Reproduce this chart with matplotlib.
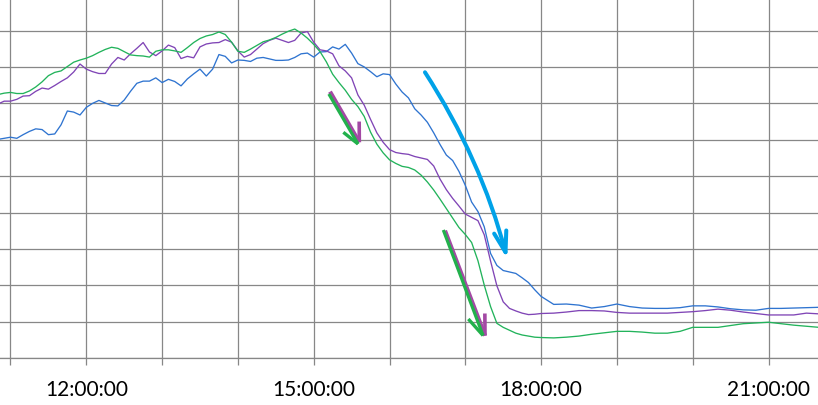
import numpy as np
import pandas as pd
import matplotlib
matplotlib.use("Agg")
import matplotlib.pyplot as plt
from matplotlib.ticker import MultipleLocator, FuncFormatter

# ── sampling times: every 5 min until 18:00, then every 10 min ────────────────
TIMES = (list(pd.date_range("2000-01-01 10:50", "2000-01-01 18:00", freq="5min"))
         + list(pd.date_range("2000-01-01 18:10", "2000-01-01 21:40", freq="10min")))
HOURS = np.array([t.hour + t.minute / 60 for t in TIMES])

# ── series values (1 unit = 1 grid step) ─────────────────────────────────────
BLUE = [6.01, 6.04, 6.07, 6.04, 6.14, 6.23, 6.30, 6.28, 6.14, 6.16,
        6.41, 6.79, 6.76, 6.68, 6.89, 7.00, 7.08, 7.01, 6.94, 6.93,
        7.09, 7.33, 7.55, 7.61, 7.61, 7.70, 7.57, 7.66, 7.60, 7.48,
        7.67, 7.81, 7.94, 7.75, 7.94, 8.34, 8.29, 8.11, 8.19, 8.18,
        8.15, 8.24, 8.26, 8.22, 8.18, 8.18, 8.19, 8.26, 8.36, 8.38,
        8.27, 8.41, 8.42, 8.55, 8.49, 8.62, 8.38, 8.09, 8.00, 7.87,
        7.73, 7.81, 7.79, 7.53, 7.31, 7.15, 6.85, 6.68, 6.48, 6.19,
        5.87, 5.58, 5.43, 5.13, 4.75, 4.29, 4.03, 3.61, 2.88, 2.55,
        2.41, 2.37, 2.33, 2.21, 2.08, 1.88, 1.70,
        1.48, 1.49, 1.46, 1.38, 1.42, 1.49, 1.42, 1.38, 1.37, 1.37,
        1.39, 1.44, 1.44, 1.41, 1.36, 1.33, 1.32, 1.37, 1.37, 1.38,
        1.39, 1.40]

PURPLE = [6.98, 7.06, 7.06, 7.11, 7.20, 7.21, 7.33, 7.42, 7.39, 7.49,
          7.60, 7.70, 7.86, 8.08, 7.94, 7.87, 7.82, 7.82, 8.08, 8.26,
          8.19, 8.36, 8.51, 8.67, 8.41, 8.31, 8.44, 8.60, 8.53, 8.23,
          8.29, 8.25, 8.55, 8.63, 8.66, 8.67, 8.75, 8.68, 8.44, 8.27,
          8.34, 8.49, 8.64, 8.73, 8.79, 8.73, 8.67, 8.73, 8.93, 8.97,
          8.68, 8.47, 8.44, 8.36, 8.03, 7.89, 7.70, 7.23, 6.95, 6.56,
          6.19, 5.93, 5.73, 5.65, 5.62, 5.60, 5.54, 5.50, 5.46, 5.28,
          4.92, 4.63, 4.39, 4.18, 3.96, 3.87, 3.78, 3.39, 2.67, 1.99,
          1.55, 1.37, 1.30, 1.24, 1.20, 1.21, 1.23,
          1.24, 1.27, 1.31, 1.31, 1.30, 1.26, 1.24, 1.24, 1.24, 1.24,
          1.26, 1.28, 1.31, 1.35, 1.32, 1.27, 1.23, 1.19, 1.19, 1.19,
          1.24, 1.22]

GREEN = [7.24, 7.28, 7.30, 7.27, 7.27, 7.34, 7.45, 7.59, 7.76, 7.85,
         7.89, 8.01, 8.13, 8.19, 8.24, 8.31, 8.40, 8.48, 8.54, 8.51,
         8.42, 8.33, 8.31, 8.30, 8.27, 8.43, 8.47, 8.47, 8.44, 8.40,
         8.53, 8.67, 8.78, 8.85, 8.89, 8.96, 8.89, 8.68, 8.43, 8.40,
         8.49, 8.59, 8.69, 8.74, 8.81, 8.90, 8.98, 9.04, 8.93, 8.79,
         8.62, 8.42, 8.14, 7.80, 7.57, 7.36, 7.11, 6.91, 6.64, 6.21,
         5.88, 5.64, 5.45, 5.35, 5.27, 5.24, 5.17, 5.03, 4.84, 4.62,
         4.37, 4.11, 3.85, 3.59, 3.40, 3.18, 2.68, 2.01, 1.42, 0.96,
         0.85, 0.77, 0.69, 0.64, 0.61, 0.58, 0.57,
         0.56, 0.58, 0.61, 0.66, 0.70, 0.74, 0.74, 0.72, 0.69, 0.69,
         0.74, 0.85, 0.85, 0.85, 0.90, 0.95, 0.97, 0.99, 0.95, 0.91,
         0.88, 0.85]

# ── hand-drawn annotation arrows (hour, value) ───────────────────────────────
CYAN_ARROW = [(16.468, 7.853), (17.554, 2.727)]           # start, tip
PG_ARROWS = [
    # purple line start, tip, purple barb top, green start, green tip, green barb
    dict(p0=(15.215, 7.320), p1=(15.602, 5.931), pb=(15.600, 6.500),
         g0=(15.200, 7.257), g1=(15.585, 5.884), gb=(15.391, 6.205)),
    dict(p0=(16.732, 3.504), p1=(17.260, 0.621), pb=(17.258, 1.230),
         g0=(16.710, 3.523), g1=(17.234, 0.626), gb=(17.040, 1.079)),
]

GRID = "#878787"
C_BLUE, C_PURPLE, C_GREEN = "#2F74D0", "#8045B6", "#22B35B"

fig = plt.figure(figsize=(8.18, 4.06), dpi=100)
ax = fig.add_axes([0, 46.7 / 406, 1, 359.3 / 406])
ax.set_xlim(10.8615, 21.653)
ax.set_ylim(0, 9.865)

ax.plot(HOURS, BLUE, color=C_BLUE, lw=0.95, zorder=3)
ax.plot(HOURS, PURPLE, color=C_PURPLE, lw=0.95, zorder=3)
ax.plot(HOURS, GREEN, color=C_GREEN, lw=0.95, zorder=3)

# cyan curved arrow
ax.annotate("", xy=CYAN_ARROW[1], xytext=CYAN_ARROW[0],
            arrowprops=dict(arrowstyle="->,head_length=1.5,head_width=0.45",
                            color="#00A2E8", lw=2.9, mutation_scale=10,
                            connectionstyle="arc3,rad=-0.08",
                            shrinkA=0, shrinkB=0),
            zorder=5)

# purple / green paired arrows
for a in PG_ARROWS:
    ax.plot(*zip(a["p0"], a["p1"]), color="#A349A4", lw=3.0,
            solid_capstyle="butt", zorder=5)
    ax.plot(*zip(a["pb"], a["p1"]), color="#A349A4", lw=2.6,
            solid_capstyle="butt", zorder=5)
    ax.plot(*zip(a["g0"], a["g1"]), color="#22B14C", lw=2.3,
            solid_capstyle="butt", zorder=6)
    ax.plot(*zip(a["gb"], a["g1"]), color="#22B14C", lw=2.4,
            solid_capstyle="butt", zorder=6)

# axes styling
ax.xaxis.set_major_locator(MultipleLocator(3))
ax.xaxis.set_minor_locator(MultipleLocator(1))
ax.xaxis.set_major_formatter(FuncFormatter(lambda x, _: f"{int(round(x)):02d}:00:00"))
ax.yaxis.set_major_locator(MultipleLocator(1))
ax.grid(which="both", axis="x", color=GRID, lw=0.9, zorder=1)
ax.grid(which="major", axis="y", color=GRID, lw=0.9, zorder=1)
ax.set_axisbelow(True)

for s in ("top", "left", "right"):
    ax.spines[s].set_visible(False)
ax.spines["bottom"].set_color(GRID)
ax.spines["bottom"].set_linewidth(0.9)

ax.tick_params(axis="x", which="both", direction="out", length=5.2,
               width=0.9, color=GRID)
ax.tick_params(axis="x", which="major", labelsize=15, pad=10, labelcolor="black")
ax.tick_params(axis="y", which="both", left=False, labelleft=False)
for lbl in ax.get_xticklabels():
    lbl.set_family(["Lato", "DejaVu Sans"])

fig.savefig("out.png", dpi=100, facecolor="white")
